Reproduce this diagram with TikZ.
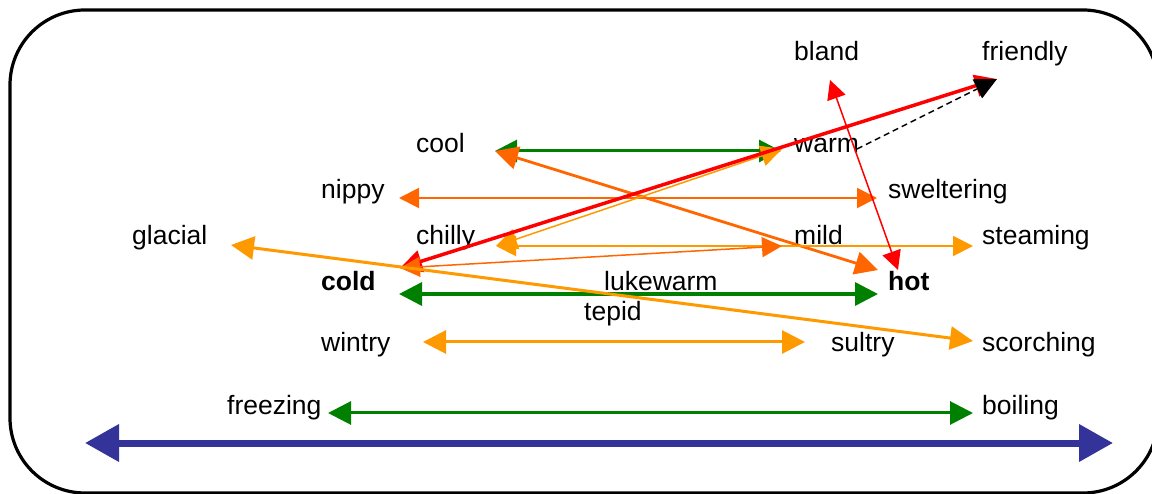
\documentclass[tikz,border=0pt]{standalone}
\usepackage{fontspec}
\setmainfont{Liberation Sans}
\usetikzlibrary{arrows.meta}
\definecolor{dgreen}{RGB}{0,128,0}
\definecolor{lorange}{RGB}{255,153,0}
\definecolor{dorange}{RGB}{255,102,0}
\definecolor{navy}{RGB}{51,51,153}
\tikzset{
  word/.style={anchor=base west, inner sep=0pt, yshift=-1.5pt, font=\fontsize{26.5}{30}\selectfont},
  boldword/.style={word, font=\fontsize{26.5}{30}\selectfont\bfseries},
  both/.style={{Triangle[length=#1, width=#1]}-{Triangle[length=#1, width=#1]}},
  frame/.style={draw=black, line width=3.2pt, rounded corners=75pt}
}
\begin{document}
\begin{tikzpicture}[x=1pt, y=-1pt]
\useasboundingbox (0,0) rectangle (1152,494);
\clip (0,0) rectangle (1152,494);
\draw[frame] (10,10) rectangle (1158,493);

% words
\node[word] (bland) at (794,59) {bland};
\node[word] (friendly) at (982,59) {friendly};
\node[word] (cool) at (416,151) {cool};
\node[word] (warm) at (794,151) {warm};
\node[word] (nippy) at (321,197) {nippy};
\node[word] (sweltering) at (888,197) {sweltering};
\node[word] (glacial) at (132,243) {glacial};
\node[word] (chilly) at (416,243) {chilly};
\node[word] (mild) at (794,243) {mild};
\node[word] (steaming) at (982,243) {steaming};
\node[boldword] (cold) at (321,289) {cold};
\node[word] (lukewarm) at (604,289) {lukewarm};
\node[boldword] (hot) at (888,289) {hot};
\node[word] (tepid) at (584,319) {tepid};
\node[word] (wintry) at (321,350) {wintry};
\node[word] (sultry) at (831,350) {sultry};
\node[word] (scorching) at (982,350) {scorching};
\node[word] (freezing) at (227,413) {freezing};
\node[word] (boiling) at (982,413) {boiling};

% arrow end points
\coordinate (scaleL) at (85,443);
\coordinate (scaleR) at (1113,443);
\coordinate (freezingE) at (328,413);
\coordinate (boilingE) at (973,413);
\coordinate (wintryE) at (423,342);
\coordinate (sultryE) at (805,342);
\coordinate (coldE) at (399,294);
\coordinate (hotE) at (878,294);
\coordinate (glacialE) at (231,245);
\coordinate (scorchingE) at (973,341);
\coordinate (coldD) at (400,268);
\coordinate (friendlyE) at (997,79);
\coordinate (mildE) at (782,246);
\coordinate (chillyE) at (496,246);
\coordinate (steamingE) at (973,246);
\coordinate (warmE) at (782,149);
\coordinate (warmG) at (781,151);
\coordinate (coolE) at (495,151);
\coordinate (hotD) at (878,270);
\coordinate (nippyE) at (399,198);
\coordinate (swelteringE) at (877,198);
\coordinate (blandE) at (830,80);
\coordinate (hotR) at (898,270);
\coordinate (warmS) at (857,149);

% connectors
\draw[navy, line width=7pt, {Triangle[length=34pt, width=36pt]}-{Triangle[length=34pt, width=36pt]}] (scaleL) -- (scaleR);
\draw[dgreen, line width=3pt, both=23pt] (freezingE) -- (boilingE);
\draw[lorange, line width=3pt, both=23pt] (wintryE) -- (sultryE);
\draw[dgreen, line width=3.5pt, both=23pt] (coldE) -- (hotE);
\draw[dgreen, line width=3pt, both=22pt] (coolE) -- (warmG);
\draw[dorange, line width=2pt, both=20pt] (nippyE) -- (swelteringE);
\draw[dorange, line width=2.8pt, both=23pt] (coolE) -- (hotD);
\draw[lorange, line width=2pt, both=20pt] (chillyE) -- (steamingE);
\draw[lorange, line width=1.5pt, both=21pt] (chillyE) -- (warmE);
\draw[red, line width=3.5pt, both=22pt] (coldD) -- (friendlyE);
\draw[dorange, line width=1.5pt, both=20pt] (coldD) -- (mildE);
\draw[lorange, line width=3pt, both=23pt] (glacialE) -- (scorchingE);
\draw[red, line width=1.5pt, both=19pt] (blandE) -- (hotR);
\draw[black, line width=1.5pt, dash pattern=on 6pt off 4pt, -{Triangle[length=22pt, width=21pt]}] (warmS) -- (friendlyE);
\end{tikzpicture}
\end{document}
